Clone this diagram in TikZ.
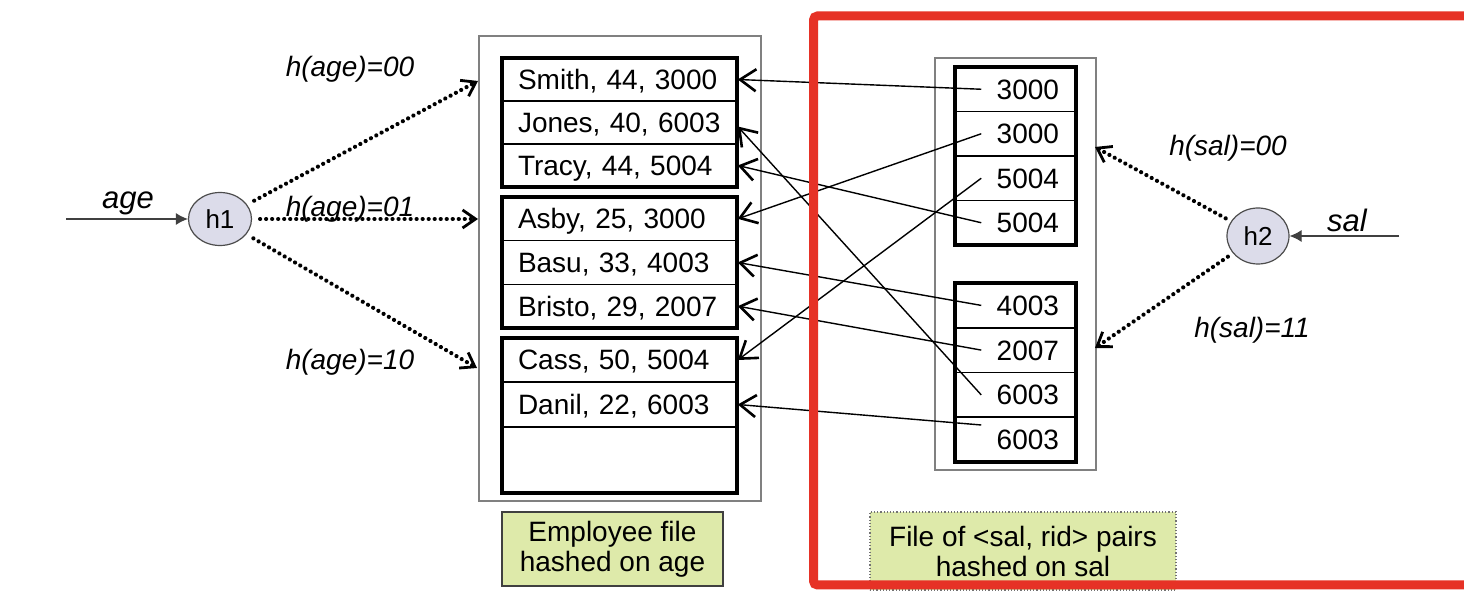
\documentclass[tikz,border=0pt]{standalone}
\usepackage{fontspec}
\setmainfont{Liberation Sans}
\usetikzlibrary{arrows.meta,shapes.geometric}
\definecolor{lblfill}{RGB}{222,234,170}
\definecolor{hfill}{RGB}{220,220,234}
\definecolor{redb}{RGB}{230,50,38}
\definecolor{boxgray}{RGB}{128,128,128}
\begin{document}
\begin{tikzpicture}[x=0.5pt,y=-0.5pt,
  every node/.style={font=\fontsize{14}{15}\selectfont},
  emprow/.style={draw, line width=0.75pt, minimum width=117.5pt, text width=101.5pt,
    inner xsep=8pt, inner ysep=0pt, align=left, text height=10.5pt, text depth=0.5pt},
  salrow/.style={draw, line width=0.75pt, minimum width=60.5pt, text width=43.5pt,
    inner xsep=8.5pt, inner ysep=0pt, align=right, minimum height=22.3pt,
    text height=10.2pt, text depth=0.2pt},
  bucket/.style={draw, line width=2.25pt, inner sep=0pt},
  outerbox/.style={draw=boxgray, line width=0.9pt, inner sep=0pt},
  hashnode/.style={ellipse, draw=black!70, line width=0.6pt, fill=hfill, inner sep=0pt,
    font=\fontsize{13}{14}\selectfont},
  lbl/.style={font=\fontsize{14}{15}\selectfont\itshape, inner sep=0pt},
  keylbl/.style={font=\fontsize{15.5}{16}\selectfont\itshape, inner sep=0pt},
  conn/.style={line width=0.7pt, -{Straight Barb[length=8pt,width=11pt,line width=1.3pt]}},
  dotarrow/.style={line width=2.1pt, line cap=round, dash pattern=on 0.01pt off 3pt,
    -{Straight Barb[length=6.5pt,width=9pt,line width=1.4pt]}},
  inarrow/.style={line width=0.6pt, draw=black!75, -{Latex[length=6pt,width=6pt]}},
  notebox/.style={fill=lblfill, align=center, inner sep=0pt}
]
\useasboundingbox (0,0) rectangle (1464,604);
\clip (0,0) rectangle (1464,604);
\fill[white] (0,0) rectangle (1464,604);

% ---------- employee file ----------
\node[outerbox, minimum width=141pt, minimum height=232.5pt] (emp) at (620,268.5) {};
\node[emprow, minimum height=21.5pt] (e1) at (619.5,79.5) {Smith, 44, 3000};
\node[emprow, minimum height=21.5pt] (e2) at (619.5,122.5) {Jones, 40, 6003};
\node[emprow, minimum height=21.5pt] (e3) at (619.5,165.5) {Tracy, 44, 5004};
\node[emprow, minimum height=21.8pt] (e4) at (619.5,218.8) {Asby, 25, 3000};
\node[emprow, minimum height=21.8pt] (e5) at (619.5,262.5) {Basu, 33, 4003};
\node[emprow, minimum height=21.8pt] (e6) at (619.5,306.2) {Bristo, 29, 2007};
\node[emprow, minimum height=22pt] (e7) at (619.5,360) {Cass, 50, 5004};
\node[emprow, minimum height=22.5pt] (e8) at (619.5,404.5) {Danil, 22, 6003};
\node[emprow, minimum height=33pt] (e9) at (619.5,460) {};
\node[bucket, minimum width=117.5pt, minimum height=64.5pt] (b1) at (619.5,122.5) {};
\node[bucket, minimum width=117.5pt, minimum height=65.5pt] (b2) at (619.5,262.5) {};
\node[bucket, minimum width=117.5pt, minimum height=77.5pt] (b3) at (619.5,415.5) {};

% ---------- sal file ----------
\node[outerbox, minimum width=80.5pt, minimum height=206pt] (salf) at (1015.5,264) {};
\node[salrow] (s1) at (1015.5,89.25) {3000};
\node[salrow] (s2) at (1015.5,133.75) {3000};
\node[salrow] (s3) at (1015.5,178.25) {5004};
\node[salrow] (s4) at (1015.5,222.75) {5004};
\node[salrow] (s5) at (1015.5,305.4) {4003};
\node[salrow] (s6) at (1015.5,350.1) {2007};
\node[salrow] (s7) at (1015.5,394.9) {6003};
\node[salrow] (s8) at (1015.5,439.6) {6003};
\node[bucket, minimum width=60.5pt, minimum height=89pt] (ba) at (1015.5,156) {};
\node[bucket, minimum width=60.5pt, minimum height=89.5pt] (bb) at (1015.5,372.5) {};

% ---------- rid pointers ----------
\draw[conn] ([xshift=13.5pt]s1.west) -- (e1.east);
\draw[conn] ([xshift=13.5pt]s2.west) -- (e4.east);
\draw[conn] ([xshift=13.5pt]s3.west) -- (e7.east);
\draw[conn] ([xshift=13.5pt]s4.west) -- (e3.east);
\draw[conn] ([xshift=13.5pt]s5.west) -- (e5.east);
\draw[conn] ([xshift=13.5pt]s6.west) -- (e6.east);
\draw[conn] ([xshift=13.5pt]s7.west) -- ([yshift=-2pt]e2.east);
\draw[conn] ([xshift=13.5pt,yshift=7.3pt]s8.west) -- (e8.east);

% ---------- h1 ----------
\node[hashnode, minimum width=31.5pt, minimum height=26.5pt] (h1) at (220,219) {h1};
\coordinate (agein) at (66,219);
\draw[inarrow] (agein) -- (h1);
\node[keylbl] (agelbl) at (128,203) {age};
\coordinate (t00) at (478,81);
\coordinate (t01) at (478,219);
\coordinate (t10) at (477,368);
\draw[dotarrow, shorten <=4pt] (h1) -- (t00);
\draw[dotarrow, shorten <=4pt] (h1) -- (t01);
\draw[dotarrow, shorten <=4pt] (h1) -- (t10);
\node[lbl] (l00) at (350,69) {h(age)=00};
\node[lbl] (l01) at (350,209) {h(age)=01};
\node[lbl] (l10) at (350,362) {h(age)=10};

% ---------- h2 ----------
\node[hashnode, minimum width=31pt, minimum height=28pt] (h2) at (1258,236) {h2};
\coordinate (salin) at (1399,236);
\draw[inarrow] (salin) -- (h2);
\node[keylbl] (sallbl) at (1347,220) {sal};
\coordinate (u00) at (1095,147);
\coordinate (u11) at (1095,348);
\draw[dotarrow, shorten <=3pt] (h2) -- (u00);
\draw[dotarrow, shorten <=3pt] (h2) -- (u11);
\node[lbl] (m00) at (1228,148) {h(sal)=00};
\node[lbl] (m11) at (1252,330) {h(sal)=11};

% ---------- notes ----------
\node[notebox, draw=black!75, line width=0.75pt, minimum width=110.5pt, minimum height=37pt]
  (note1) at (612.5,549) {Employee file\\hashed on age};
\node[notebox, draw=black!55, line width=0.6pt, densely dotted, minimum width=153pt, minimum height=39pt]
  (note2) at (1023,551) {File of <sal, rid> pairs\\hashed on sal};

% ---------- red highlight ----------
\draw[redb, line width=4.5pt, rounded corners=2pt] (813.5,16) rectangle (1485,585);
\end{tikzpicture}
\end{document}
